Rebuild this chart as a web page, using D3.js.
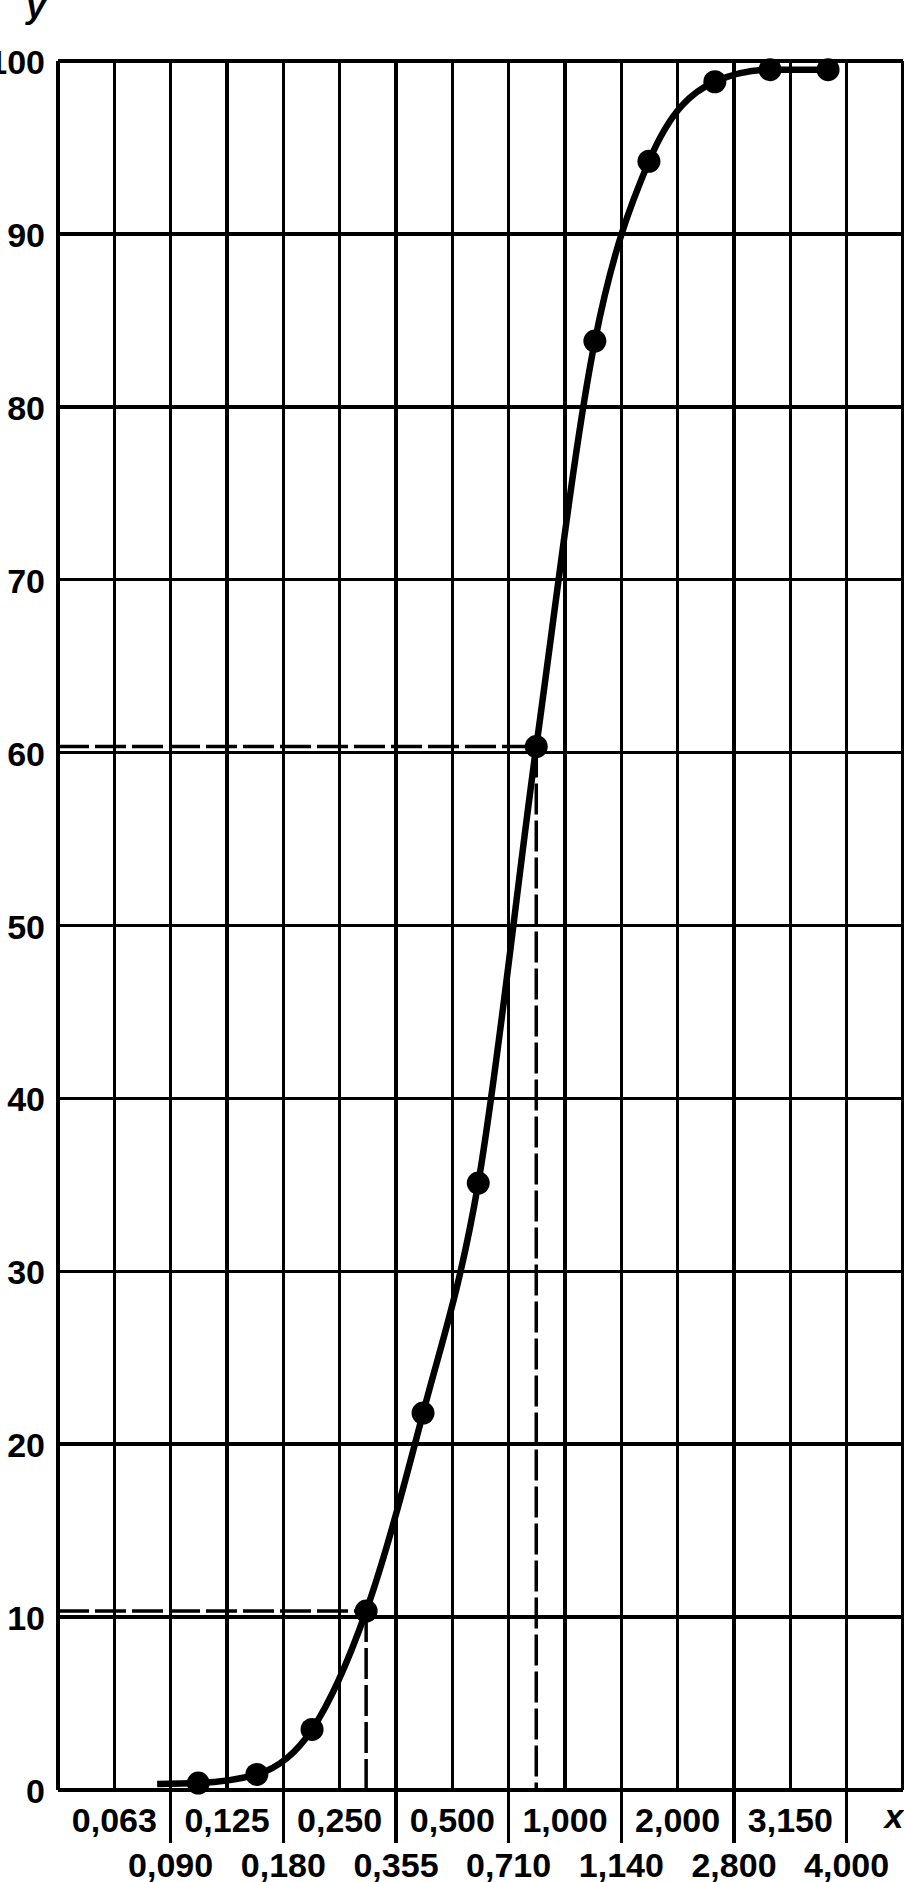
<!DOCTYPE html>
<html>
<head>
<meta charset="utf-8">
<script src="https://cdn.jsdelivr.net/npm/d3@7"></script>
<style>
  body { margin: 0; background: #fff; }
  text { font-family: "Liberation Sans", Arial, sans-serif; font-weight: bold; fill: #000; }
</style>
</head>
<body>
<script>
// sieve sizes, one per grid line (index 1..14), lines 0 and 15 have no label
var sieveLabels = ["", "0,063", "0,090", "0,125", "0,180", "0,250", "0,355", "0,500",
                   "0,710", "1,000", "1,140", "2,000", "2,800", "3,150", "4,000", ""];
var yTicks = [0, 10, 20, 30, 40, 50, 60, 70, 80, 90, 100];

// measured points: position on the grid (line index) and passing percentage
var pointPos = [2.49, 3.53, 4.51, 5.47, 6.48, 7.46, 8.49, 9.53, 10.49, 11.66, 12.64, 13.67];
var pointVal = [0.4, 0.9, 3.5, 10.35, 21.8, 35.1, 60.35, 83.8, 94.2, 98.8, 99.5, 99.5];

// where the drawn curve begins, left of the first point
var curveStart = [1.76, 0.35];

// points marked with dashed reading lines
var markedPoints = [3, 6];

var W = 904, H = 1882;
var margin = {top: 61, right: 1, bottom: 92, left: 58};

var svg = d3.select("body")
  .append("svg")
  .attr("width", W)
  .attr("height", H);

var x = d3.scaleLinear()
  .domain([0, sieveLabels.length - 1])
  .range([margin.left, W - margin.right]);

var y = d3.scaleLinear()
  .domain([0, 100])
  .range([H - margin.bottom, margin.top]);

var grid = svg.append("g")
  .attr("stroke", "#000")
  .attr("stroke-width", 3.5)
  .attr("shape-rendering", "crispEdges");

// vertical lines
grid.selectAll("line.v")
  .data(d3.range(sieveLabels.length))
  .enter().append("line")
  .attr("class", "v")
  .attr("x1", d => x(d))
  .attr("x2", d => x(d))
  .attr("y1", y(100))
  .attr("y2", d => (d % 2 === 0 && d > 0 && d < 15) ? y(0) + 53 : y(0));

// horizontal lines
grid.selectAll("line.h")
  .data(yTicks)
  .enter().append("line")
  .attr("class", "h")
  .attr("x1", x(0))
  .attr("x2", x(15))
  .attr("y1", d => y(d))
  .attr("y2", d => y(d))
  .attr("stroke-width", d => (d === 0 || d === 100) ? 4 : 3.5);

// y labels
svg.selectAll("text.yl")
  .data(yTicks)
  .enter().append("text")
  .attr("class", "yl")
  .attr("x", 45)
  .attr("y", d => y(d) + 13)
  .attr("text-anchor", "end")
  .attr("font-size", 34)
  .text(d => d);

// x labels, odd lines on the first row, even lines on the second
svg.selectAll("text.xl")
  .data(sieveLabels.map((s, i) => ({s: s, i: i})).filter(d => d.s !== ""))
  .enter().append("text")
  .attr("class", "xl")
  .attr("x", d => x(d.i))
  .attr("y", d => d.i % 2 === 1 ? y(0) + 42 : y(0) + 87)
  .attr("text-anchor", "middle")
  .attr("font-size", 34)
  .text(d => d.s);

// axis names
svg.append("text")
  .attr("x", 36).attr("y", 18)
  .attr("text-anchor", "middle")
  .attr("font-size", 34)
  .attr("font-style", "italic")
  .text("y");

svg.append("text")
  .attr("x", 894).attr("y", 1828)
  .attr("text-anchor", "middle")
  .attr("font-size", 34)
  .attr("font-style", "italic")
  .text("x");

// dashed reading lines
var dash = svg.append("g")
  .attr("stroke", "#000")
  .attr("stroke-width", 3.5)
  .attr("stroke-dasharray", "31,6")
  .attr("fill", "none");

markedPoints.forEach(function(i) {
  dash.append("line")
    .attr("x1", x(0)).attr("x2", x(pointPos[i]))
    .attr("y1", y(pointVal[i])).attr("y2", y(pointVal[i]));
  dash.append("line")
    .attr("x1", x(pointPos[i])).attr("x2", x(pointPos[i]))
    .attr("y1", y(pointVal[i])).attr("y2", y(0));
});

// curve
var curvePts = [curveStart].concat(pointPos.map((p, i) => [p, pointVal[i]]));
var line = d3.line()
  .x(d => x(d[0]))
  .y(d => y(d[1]))
  .curve(d3.curveMonotoneX);

svg.append("path")
  .datum(curvePts)
  .attr("d", line)
  .attr("fill", "none")
  .attr("stroke", "#000")
  .attr("stroke-width", 6.5)
  .attr("stroke-linejoin", "round");

// points
svg.selectAll("circle.pt")
  .data(pointPos.map((p, i) => [p, pointVal[i]]))
  .enter().append("circle")
  .attr("class", "pt")
  .attr("cx", d => x(d[0]))
  .attr("cy", d => y(d[1]))
  .attr("r", 11.5)
  .attr("fill", "#000");
</script>
</body>
</html>
